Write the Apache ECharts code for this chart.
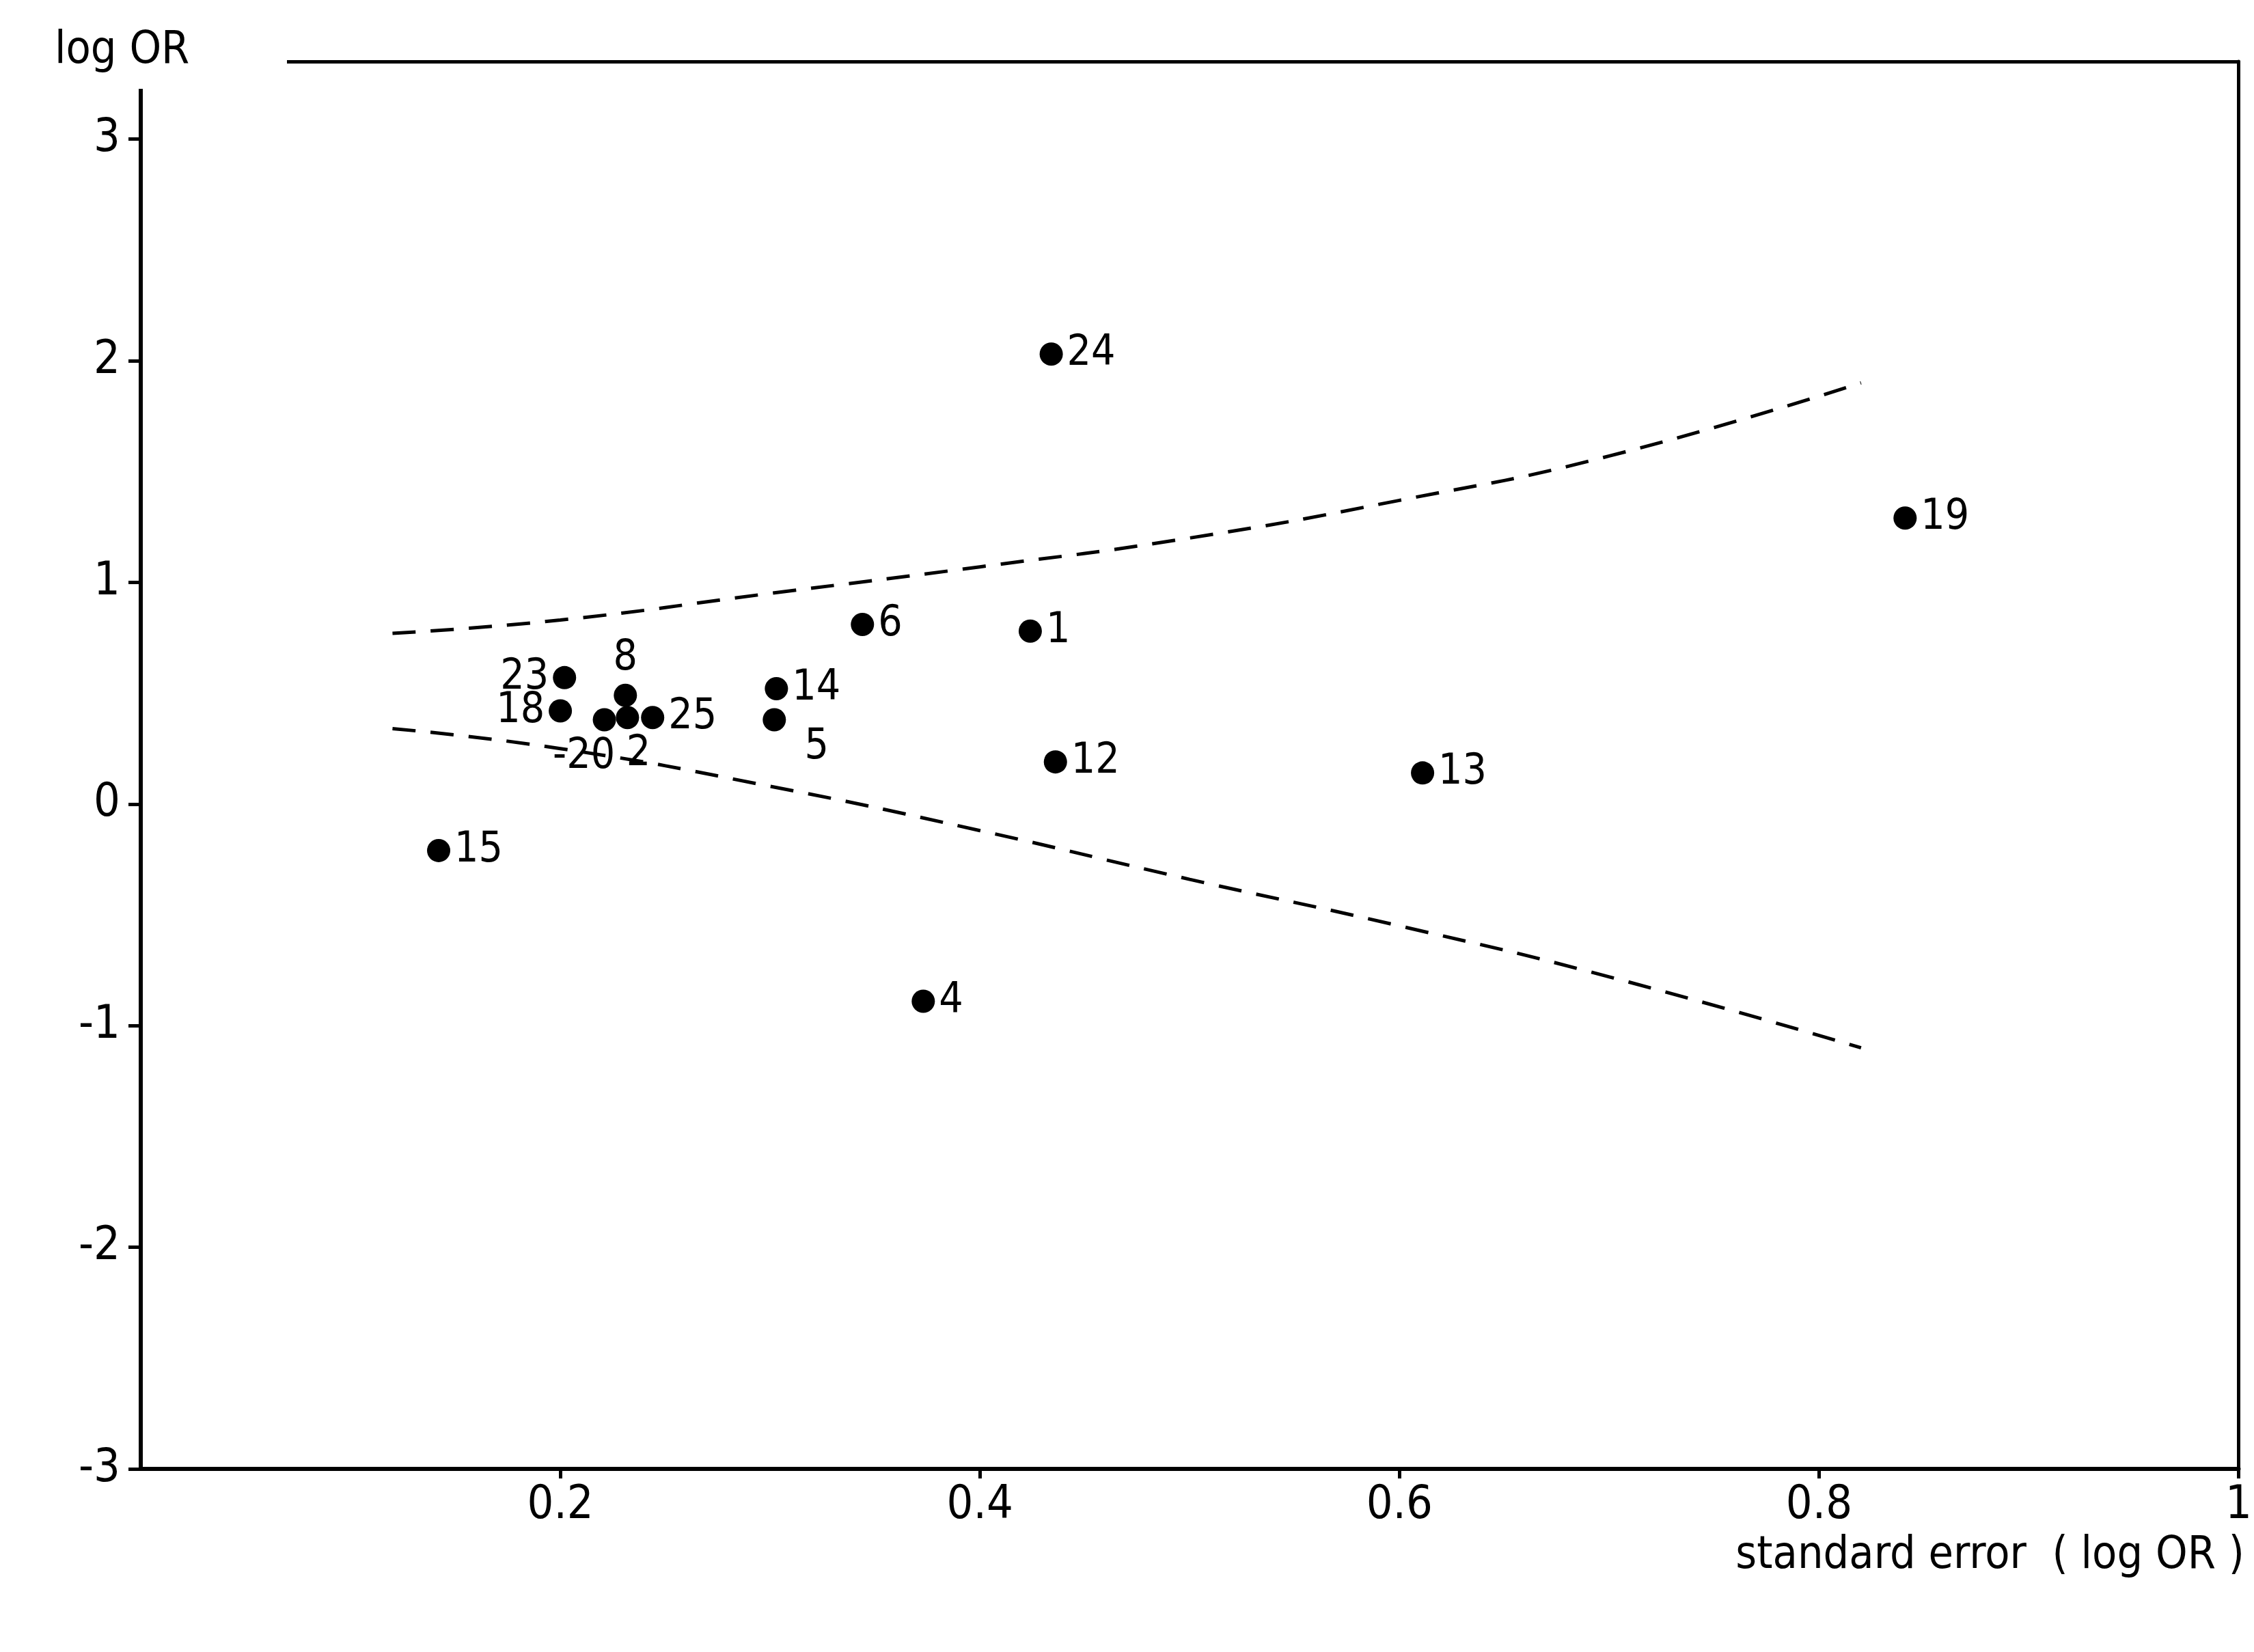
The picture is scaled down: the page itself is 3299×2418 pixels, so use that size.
<!DOCTYPE html>
<html style="height: 100%">
<head>
  <meta charset="UTF-8" />
  <title>Funnel plot</title>
  <script src="https://cdn.jsdelivr.net/npm/echarts@6/dist/echarts.min.js"></script>
</head>
<body style="height: 100%; margin: 0; background: #fff">
  <div id="main" style="height: 100%"></div>
  <script>
    // study data
    const studyIds = ['24', '19', '6', '1', '23', '8', '14', '18', '20', '2', '25', '5', '12', '13', '15', '4'];
    const stdErr = [0.434, 0.841, 0.344, 0.424, 0.202, 0.231, 0.303, 0.200, 0.221, 0.232, 0.244, 0.302, 0.436, 0.611, 0.142, 0.373];
    const logOR = [2.03, 1.29, 0.81, 0.78, 0.57, 0.49, 0.52, 0.42, 0.38, 0.39, 0.39, 0.38, 0.19, 0.14, -0.21, -0.89];

    // funnel limits
    const limitSE = [0.12, 0.2, 0.3, 0.4, 0.5, 0.6, 0.7, 0.82];
    const upperLimit = [0.77, 0.83, 0.95, 1.07, 1.20, 1.37, 1.57, 1.90];
    const lowerLimit = [0.34, 0.25, 0.08, -0.12, -0.34, -0.55, -0.78, -1.10];

    const xTicks = [0.2, 0.4, 0.6, 0.8, 1];

    // label placement per study
    const labelPos = {
      '23': 'left', '18': 'left', '8': 'top', '20': 'bottom', '2': 'bottom', '5': 'bottom'
    };
    const labelText = { '20': '-20' };

    const font = 'DejaVu Sans Condensed';
    const ink = '#000';

    const chart = echarts.init(document.getElementById('main'));

    const points = studyIds.map(function (id, i) {
      const pos = labelPos[id] || 'right';
      const lab = { show: true, position: pos, formatter: labelText[id] || id, distance: 6 };
      if (id === '20') { lab.offset = [-30, 0]; }
      if (id === '5') { lab.offset = [62, -14]; }
      if (id === '2') { lab.offset = [16, 0]; }
      return { value: [stdErr[i], logOR[i]], label: lab };
    });

    const option = {
      backgroundColor: '#fff',
      animation: false,
      grid: { left: 206, right: 14, top: 90, bottom: 268 },
      xAxis: [{
        type: 'value', min: 0, max: 1, interval: 0.2,
        axisLine: { show: true, onZero: false, lineStyle: { color: ink, width: 6 } },
        axisTick: { show: true, length: 14, lineStyle: { color: ink, width: 5 } },
        axisLabel: {
          showMinLabel: false, color: ink, fontFamily: font, fontSize: 68, margin: 20,
          formatter: function (v) { return xTicks.indexOf(+v.toFixed(1)) >= 0 ? String(+v.toFixed(1)) : ''; }
        },
        splitLine: { show: false }
      }, {
        type: 'value', min: 0, max: 1, position: 'top',
        axisLine: { show: true, onZero: false, lineStyle: { color: ink, width: 5 } },
        axisTick: { show: false }, axisLabel: { show: false }, splitLine: { show: false }
      }],
      yAxis: [{
        type: 'value', min: -3, max: 3.35, interval: 1,
        axisLine: { show: true, onZero: false, lineStyle: { color: ink, width: 6 } },
        axisTick: { show: true, length: 18, lineStyle: { color: ink, width: 5 } },
        axisLabel: { showMaxLabel: false, color: ink, fontFamily: font, fontSize: 68, margin: 30 },
        splitLine: { show: false }
      }, {
        type: 'value', min: -3, max: 3.35, position: 'right',
        axisLine: { show: true, onZero: false, lineStyle: { color: ink, width: 5 } },
        axisTick: { show: false }, axisLabel: { show: false }, splitLine: { show: false }
      }],
      series: [
        {
          type: 'scatter', symbolSize: 34,
          itemStyle: { color: ink, opacity: 1 },
          label: { color: ink, fontFamily: font, fontSize: 62 },
          data: points
        },
        {
          type: 'line', showSymbol: false, smooth: true,
          lineStyle: { color: ink, width: 5, type: [34, 22] },
          data: limitSE.map(function (x, i) { return [x, upperLimit[i]]; })
        },
        {
          type: 'line', showSymbol: false, smooth: true,
          lineStyle: { color: ink, width: 5, type: [34, 22] },
          data: limitSE.map(function (x, i) { return [x, lowerLimit[i]]; })
        }
      ],
      graphic: [
        { type: 'rect', left: 190, top: 70, z: 100, shape: { width: 230, height: 60 }, style: { fill: '#fff' } },
        { type: 'text', left: 80, top: 42, z: 101, style: { text: 'log OR', fontFamily: font, fontSize: 66, fill: ink } },
        { type: 'text', right: 14, top: 2245, style: { text: 'standard error  ( log OR )', fontFamily: font, fontSize: 66, fill: ink } }
      ]
    };

    chart.setOption(option);
  </script>
</body>
</html>
